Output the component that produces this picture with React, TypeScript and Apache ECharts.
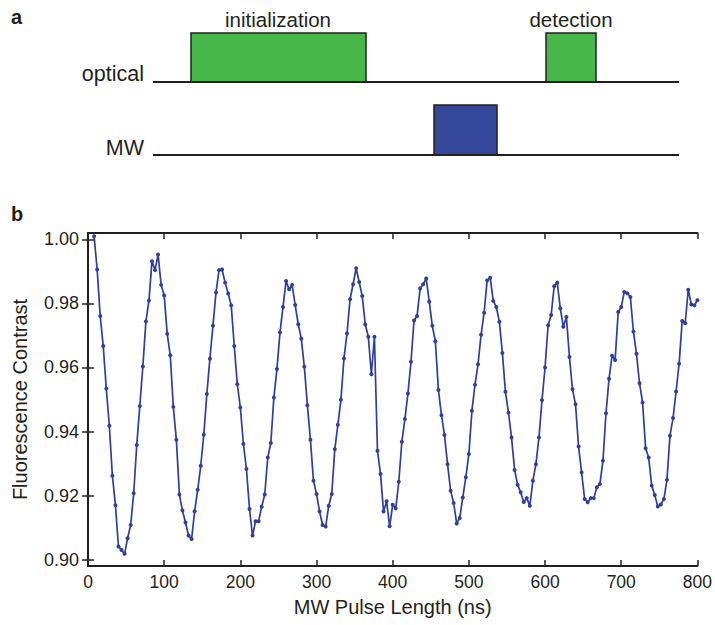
import React, { useEffect, useRef } from "react";
import * as echarts from "echarts";

// ---- data ----
const pulseLengthNs = [
  8, 12, 16, 20, 24, 28, 32, 36, 40, 44, 48, 52, 56, 60, 64, 68, 72, 76, 80, 84,
  88, 92, 96, 100, 104, 108, 112, 116, 120, 124, 128, 132, 136, 140, 144, 148, 152, 156, 160, 164,
  168, 172, 176, 180, 184, 188, 192, 196, 200, 204, 208, 212, 216, 220, 224, 228, 232, 236, 240, 244,
  248, 252, 256, 260, 264, 268, 272, 276, 280, 284, 288, 292, 296, 300, 304, 308, 312, 316, 320, 324,
  328, 332, 336, 340, 344, 348, 352, 356, 360, 364, 368, 372, 376, 380, 384, 388, 392, 396, 400, 404,
  408, 412, 416, 420, 424, 428, 432, 436, 440, 444, 448, 452, 456, 460, 464, 468, 472, 476, 480, 484,
  488, 492, 496, 500, 504, 508, 512, 516, 520, 524, 528, 532, 536, 540, 544, 548, 552, 556, 560, 564,
  568, 572, 576, 580, 584, 588, 592, 596, 600, 604, 608, 612, 616, 620, 624, 628, 632, 636, 640, 644,
  648, 652, 656, 660, 664, 668, 672, 676, 680, 684, 688, 692, 696, 700, 704, 708, 712, 716, 720, 724,
  728, 732, 736, 740, 744, 748, 752, 756, 760, 764, 768, 772, 776, 780, 784, 788, 792, 796, 800,
];

const fluorescenceContrast = [
  1.001, 0.9906, 0.9761, 0.9667, 0.9534, 0.9418, 0.9262, 0.917, 0.9041, 0.903,
  0.9018, 0.9067, 0.9108, 0.9207, 0.9358, 0.948, 0.9603, 0.9744, 0.9809, 0.9932,
  0.9904, 0.9953, 0.9858, 0.9825, 0.9705, 0.9638, 0.9477, 0.9374, 0.9203, 0.9153,
  0.9116, 0.9075, 0.9064, 0.9151, 0.9218, 0.9293, 0.939, 0.9517, 0.9627, 0.973,
  0.9834, 0.9904, 0.9906, 0.9865, 0.9831, 0.9794, 0.9667, 0.9548, 0.9475, 0.9361,
  0.9283, 0.9158, 0.9075, 0.912, 0.912, 0.9165, 0.9203, 0.9319, 0.9364, 0.9506,
  0.9595, 0.9709, 0.9789, 0.987, 0.9844, 0.9858, 0.9795, 0.9735, 0.969, 0.9602,
  0.9482, 0.9374, 0.9246, 0.9205, 0.915, 0.9108, 0.9103, 0.9168, 0.9205, 0.9345,
  0.9421, 0.9499, 0.9628, 0.9706, 0.9813, 0.986, 0.991, 0.9867, 0.9823, 0.9734,
  0.9696, 0.9579, 0.9696, 0.934, 0.9267, 0.915, 0.9182, 0.9104, 0.9171, 0.916,
  0.9243, 0.9368, 0.9439, 0.9519, 0.9618, 0.9747, 0.9761, 0.9847, 0.986, 0.9878,
  0.9805, 0.973, 0.9682, 0.953, 0.9451, 0.9389, 0.9298, 0.9215, 0.9177, 0.9113,
  0.913, 0.9194, 0.9257, 0.933, 0.9465, 0.9546, 0.961, 0.9702, 0.9771, 0.9872,
  0.988, 0.9808, 0.9789, 0.9743, 0.9645, 0.9524, 0.9459, 0.9381, 0.928, 0.9234,
  0.921, 0.918, 0.9192, 0.9168, 0.9246, 0.9298, 0.9381, 0.9498, 0.96, 0.9732,
  0.9764, 0.9854, 0.9865, 0.9785, 0.9727, 0.9758, 0.9633, 0.9532, 0.9485, 0.9353,
  0.9272, 0.9189, 0.9179, 0.9192, 0.9192, 0.9226, 0.9236, 0.9309, 0.9457, 0.9565,
  0.9637, 0.9623, 0.9773, 0.9789, 0.9836, 0.9832, 0.982, 0.9712, 0.9643, 0.9551,
  0.9491, 0.9348, 0.9319, 0.9231, 0.9202, 0.9166, 0.9172, 0.9189, 0.9249, 0.9387,
  0.9442, 0.9525, 0.9612, 0.9745, 0.9738, 0.9843, 0.9797, 0.9794, 0.981,
];

const yTickValues = [0.9, 0.92, 0.94, 0.96, 0.98, 1.0];

const xAxisName = "MW Pulse Length (ns)";
const yAxisName = "Fluorescence Contrast";
const panelLabels = ["a", "b"];
const channelLabels = ["optical", "MW"];
const pulseLabels = ["initialization", "detection"];

const INK = "#231f20";
const LINE_BLUE = "#2e3f9c";
const GREEN = "#47b749";
const BLUE = "#34479b";
const FONT = "'Liberation Sans', Arial, Helvetica, sans-serif";

export default function App() {
  const ref = useRef<HTMLDivElement>(null);

  useEffect(() => {
    if (!ref.current) return;
    const chart = echarts.init(ref.current, undefined, { renderer: "svg" });

    const axisLine = { show: true, lineStyle: { color: INK, width: 2 } };
    const tick = { show: true, inside: true, length: 6, lineStyle: { color: INK, width: 1.5 } };

    const textEl = (text: string, x: number, y: number, size: number, align: string, bold = false) => ({
      type: "text",
      x,
      y,
      style: {
        text,
        fontSize: size,
        fontWeight: bold ? "bold" : "normal",
        fontFamily: FONT,
        fill: INK,
        align,
        verticalAlign: "middle",
        textAlign: align,
        textVerticalAlign: "middle",
      },
    });

    const option: any = {
      animation: false,
      textStyle: { fontFamily: FONT },
      grid: { left: 88, top: 233, width: 613, height: 333, containLabel: false },
      xAxis: [
        {
          type: "value",
          min: 0,
          max: 800,
          interval: 100,
          position: "bottom",
          axisLine,
          axisTick: tick,
          axisLabel: { fontSize: 17.5, color: INK, margin: 7, fontFamily: FONT },
          splitLine: { show: false },
          name: xAxisName,
          nameLocation: "middle",
          nameGap: 31,
          nameTextStyle: { fontSize: 20, color: INK, fontFamily: FONT },
        },
        {
          type: "value",
          min: 0,
          max: 800,
          interval: 100,
          position: "top",
          axisLine,
          axisTick: tick,
          axisLabel: { show: false },
          splitLine: { show: false },
        },
      ],
      yAxis: [
        {
          type: "value",
          min: 0.898,
          max: 1.002,
          position: "left",
          axisLine,
          axisTick: { ...tick, customValues: yTickValues },
          axisLabel: {
            customValues: yTickValues,
            formatter: (v: number) => v.toFixed(2),
            fontSize: 18,
            color: INK,
            margin: 9,
            fontFamily: FONT,
          },
          splitLine: { show: false },
          name: yAxisName,
          nameLocation: "middle",
          nameGap: 58,
          nameRotate: 90,
          nameTextStyle: { fontSize: 20, color: INK, fontFamily: FONT },
        },
        {
          type: "value",
          min: 0.898,
          max: 1.002,
          position: "right",
          axisLine,
          axisTick: { ...tick, customValues: yTickValues },
          axisLabel: { show: false },
          splitLine: { show: false },
        },
      ],
      series: [
        {
          type: "line",
          xAxisIndex: 0,
          yAxisIndex: 0,
          data: pulseLengthNs.map((x, i) => [x, fluorescenceContrast[i]]),
          symbol: "circle",
          symbolSize: 4,
          showSymbol: true,
          clip: false,
          lineStyle: { color: LINE_BLUE, width: 1.7 },
          itemStyle: { color: LINE_BLUE },
        },
      ],
      graphic: [
        textEl(panelLabels[0], 11, 17, 20, "left", true),
        textEl(panelLabels[1], 11, 214, 20, "left", true),
        // pulses
        { type: "rect", shape: { x: 191, y: 33, width: 175, height: 49 }, style: { fill: GREEN, stroke: INK, lineWidth: 1.5 } },
        { type: "rect", shape: { x: 546, y: 33, width: 50, height: 49 }, style: { fill: GREEN, stroke: INK, lineWidth: 1.5 } },
        { type: "rect", shape: { x: 434, y: 105, width: 63, height: 50 }, style: { fill: BLUE, stroke: INK, lineWidth: 1.5 } },
        // channel baselines
        { type: "line", shape: { x1: 153, y1: 82, x2: 679, y2: 82 }, style: { stroke: INK, lineWidth: 2 } },
        { type: "line", shape: { x1: 153, y1: 155, x2: 679, y2: 155 }, style: { stroke: INK, lineWidth: 2 } },
        // labels
        textEl(pulseLabels[0], 278, 19, 20.5, "center"),
        textEl(pulseLabels[1], 571, 19, 20.5, "center"),
        textEl(channelLabels[0], 144, 74, 21.5, "right"),
        textEl(channelLabels[1], 144, 148, 21.5, "right"),
      ],
    };

    chart.setOption(option);
    return () => chart.dispose();
  }, []);

  return (
    <div
      ref={ref}
      style={{ position: "absolute", left: 0, top: 0, width: 715, height: 625, background: "#ffffff" }}
    />
  );
}
